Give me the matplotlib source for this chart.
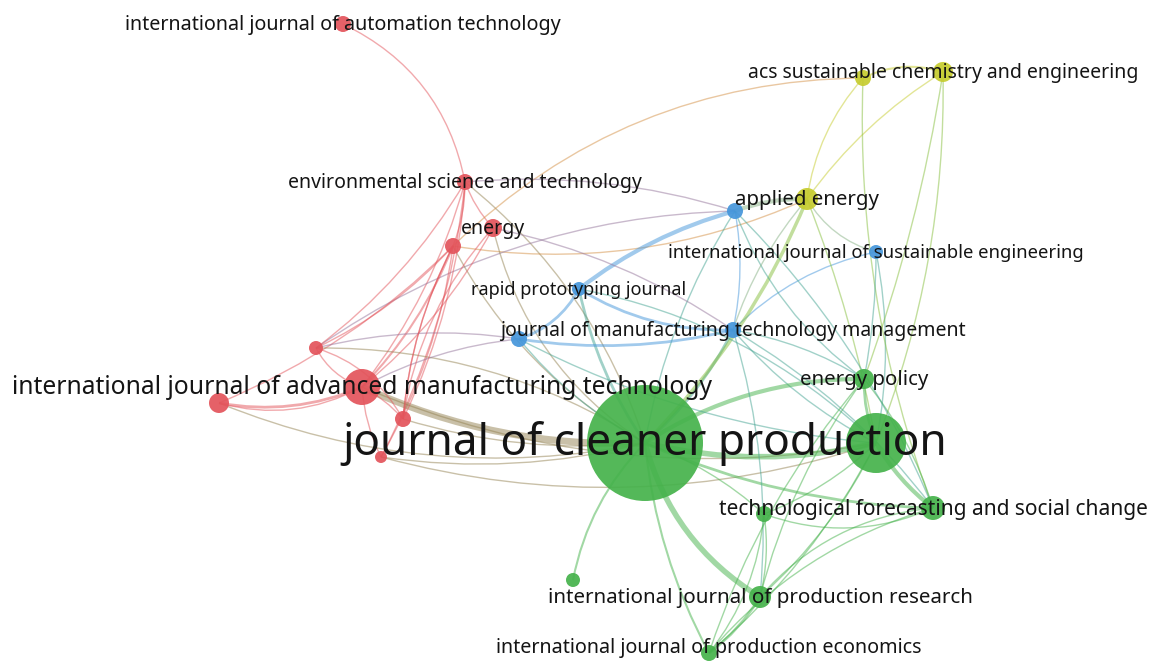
import matplotlib.pyplot as plt
import matplotlib.colors as mcolors
from matplotlib.path import Path
from matplotlib.patches import PathPatch
import numpy as np

# journals (nodes); '' = label hidden in the map
labels = [
    'international journal of automation technology',
    'environmental science and technology',
    'energy',
    '', '',
    'international journal of advanced manufacturing technology',
    '', '', '',
    '',
    'international journal of sustainable engineering',
    'rapid prototyping journal',
    'journal of manufacturing technology management',
    '',
    'applied energy',
    '',
    'acs sustainable chemistry and engineering',
    'journal of cleaner production',
    '',
    'energy policy',
    'technological forecasting and social change',
    '', '',
    'international journal of production research',
    'international journal of production economics',
]
# layout coordinates of the map
node_x = [343, 465, 493, 453, 316, 362, 219, 403, 381,
          735, 876, 579, 733, 519,
          807, 863, 943,
          645, 876, 864, 933, 764, 573, 760, 709]
node_y = [24, 182, 228, 246, 348, 387, 403, 419, 457,
          211, 252, 289, 330, 339,
          199, 78, 72,
          443, 443, 379, 508, 514, 580, 597, 653]
# node weight (circle radius)
weight = [8, 8, 9, 8, 7, 18, 10, 8, 6,
          8, 7, 7, 8, 8,
          11, 8, 10,
          58, 30, 10, 12, 8, 7, 11, 8]
cluster = [0, 0, 0, 0, 0, 0, 0, 0, 0,
           1, 1, 1, 1, 1,
           2, 2, 2,
           3, 3, 3, 3, 3, 3, 3, 3]
label_size = [14.2, 14, 14, 0, 0, 17.7, 0, 0, 0,
              0, 13.3, 13, 14, 0,
              14.7, 0, 14,
              31.8, 0, 14.7, 15, 0, 0, 14.8, 14.2]

# links
edge_src = [0, 1, 1, 1, 1, 3, 3, 4, 1,
            3, 3, 3, 3, 3, 3, 2, 2, 1, 1,
            4, 4, 4, 5, 5, 5, 5, 5, 6, 7, 8, 8, 5,
            9, 9, 9, 9, 11, 11, 11, 12, 12, 12, 12, 10, 10, 10, 13,
            14, 15, 14, 14, 14, 15, 16, 16,
            17, 17, 17, 17, 17, 17, 17, 18, 18, 18, 18, 18, 19, 19, 20, 20, 21, 23, 20, 12, 2,
            2, 1, 4, 7, 6, 9, 11, 13, 10, 12, 19, 21, 14, 9]
edge_dst = [1, 3, 5, 2, 17, 14, 15, 9, 9,
            4, 5, 6, 7, 8, 17, 5, 17, 4, 8,
            5, 17, 13, 6, 17, 7, 8, 13, 17, 17, 17, 18, 18,
            14, 11, 12, 17, 13, 12, 17, 13, 17, 18, 19, 14, 12, 18, 17,
            15, 16, 16, 17, 18, 20, 18, 19,
            19, 18, 20, 21, 22, 23, 24, 19, 20, 23, 24, 21, 20, 23, 23, 24, 23, 24, 21, 23, 12,
            7, 7, 7, 3, 5, 19, 18, 18, 19, 20, 24, 24, 12, 20]
edge_w = [1, 1, 1, 1, 1, 1, 1, 1, 1,
          1, 1.5, 1, 1, 1, 1, 1, 1, 1, 1,
          1, 1, 1, 2, 5, 1, 1, 1, 1, 1, 1, 1, 1,
          3, 3, 1, 1, 2, 2, 2, 2, 2, 1, 1, 1, 1, 1, 1,
          1, 1.5, 1, 2.5, 1, 1, 1, 1,
          3, 4, 2, 1, 1.5, 4, 1.5, 2, 3, 1, 1, 1, 1, 1, 1, 1, 1, 2, 1, 1, 1,
          1, 1, 1, 1, 1, 1, 1, 1, 1, 1, 1, 1, 1, 1]
edge_bend = [0.25, 0.1, 0.1, -0.1, 0.15, -0.15, 0.2, 0.15, 0.1,
             0.1, 0.1, 0.1, -0.1, 0.1, -0.15, 0.1, -0.2, 0.1, 0.1,
             -0.2, 0.15, 0.1, 0.15, -0.12, 0.1, -0.1, 0.1, -0.15, -0.1, -0.1, -0.15, -0.15,
             0.1, -0.1, 0.1, -0.1, 0.2, -0.15, -0.1, 0.1, 0.1, -0.1, 0.1, 0.2, -0.15, 0.1, -0.1,
             0.15, 0.2, 0.1, 0.1, 0.05, -0.1, 0.1, 0.05,
             0.15, -0.12, -0.1, 0.1, -0.15, -0.2, -0.1, 0.1, -0.1, 0.1, 0.1, 0.1, 0.1, -0.1, -0.2, -0.15, 0.1, 0.1, 0.2, 0.1, 0.1,
             -0.15, 0.1, 0.2, 0.1, -0.2, -0.15, 0.15, -0.1, 0.05, 0.1, -0.1, 0.15, -0.1, 0.1]

palette = ['#e3545b', '#4596db', '#c6cc2e', '#45b24b']

fig = plt.figure(figsize=(11.49, 6.61), dpi=100)
ax = fig.add_axes([0, 0, 1, 1])
ax.set_xlim(0, 1149)
ax.set_ylim(661, 0)
ax.axis('off')

# edges: curved, colour mixed from both ends
for s, d, w, b in zip(edge_src, edge_dst, edge_w, edge_bend):
    p0 = np.array([node_x[s], node_y[s]], float)
    p2 = np.array([node_x[d], node_y[d]], float)
    dv = p2 - p0
    ctrl = (p0 + p2) / 2 + b * np.array([dv[1], -dv[0]])
    c1 = np.array(mcolors.to_rgb(palette[cluster[s]]))
    c2 = np.array(mcolors.to_rgb(palette[cluster[d]]))
    col = (c1 + c2) / 2
    path = Path([p0, ctrl, p2], [Path.MOVETO, Path.CURVE3, Path.CURVE3])
    ax.add_patch(PathPatch(path, facecolor='none', edgecolor=col,
                           lw=1.0 * w, alpha=0.5, zorder=1))

# nodes
sizes = [(2 * r * 0.72) ** 2 for r in weight]
cols = [palette[c] for c in cluster]
ax.scatter(node_x, node_y, s=sizes, c=cols, alpha=0.92, linewidths=0, zorder=2)

# labels (kept inside the canvas at the bottom edge)
for lab, xx, yy, fs in zip(labels, node_x, node_y, label_size):
    if lab:
        ax.text(xx, min(yy + 1, 648), lab, ha='center', va='center', fontsize=fs,
                color='#141414', family=['Noto Sans', 'DejaVu Sans'], zorder=3)

fig.savefig('out.png', dpi=100)
